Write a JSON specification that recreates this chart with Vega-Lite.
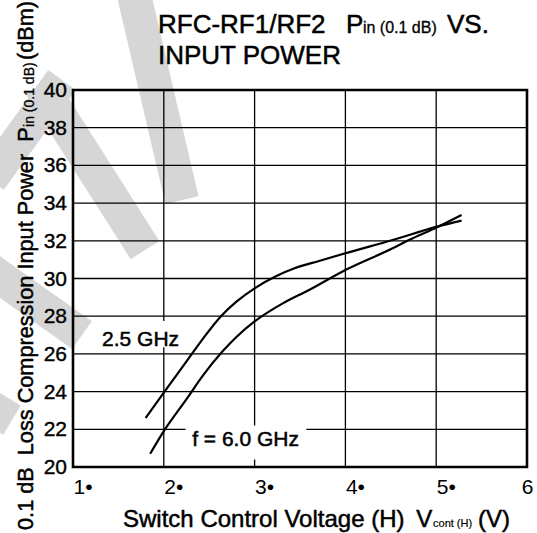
{
  "$schema": "https://vega.github.io/schema/vega-lite/v6.json",
  "width": 454,
  "height": 377,
  "autosize": {"type": "none"},
  "padding": {"left": 73, "top": 90, "right": 10, "bottom": 66},
  "background": "white",
  "config": {
    "view": {"stroke": null},
    "font": "Liberation Sans",
    "text": {"color": "black", "stroke": "black", "strokeWidth": 0.5},
    "axis": {"labelOverlap": false, "labelFlush": false, "labelBound": false}
  },
  "datasets": {
    "watermark": [
      {"band": "A", "v": 1.672, "p": 45.04},
      {"band": "A", "v": 2.2, "p": 34.16},
      {"band": "B", "v": 0.637, "p": 40.27},
      {"band": "B", "v": 1.793, "p": 31.51},
      {"band": "C", "v": 0.086, "p": 30.45},
      {"band": "C", "v": 1.099, "p": 27.0},
      {"band": "D", "v": 0.086, "p": 35.23},
      {"band": "D", "v": 0.879, "p": 40.53},
      {"band": "E", "v": -0.134, "p": 23.82},
      {"band": "E", "v": 0.328, "p": 22.49}
    ],
    "curves": [
      {"series": "2.5 GHz", "v": 1.80, "p": 22.6},
      {"series": "2.5 GHz", "v": 2.0, "p": 23.95},
      {"series": "2.5 GHz", "v": 2.25, "p": 25.6},
      {"series": "2.5 GHz", "v": 2.43, "p": 26.8},
      {"series": "2.5 GHz", "v": 2.63, "p": 28.0},
      {"series": "2.5 GHz", "v": 2.80, "p": 28.77},
      {"series": "2.5 GHz", "v": 3.0, "p": 29.48},
      {"series": "2.5 GHz", "v": 3.24, "p": 30.13},
      {"series": "2.5 GHz", "v": 3.44, "p": 30.54},
      {"series": "2.5 GHz", "v": 3.71, "p": 30.93},
      {"series": "2.5 GHz", "v": 4.0, "p": 31.34},
      {"series": "2.5 GHz", "v": 4.52, "p": 32.04},
      {"series": "2.5 GHz", "v": 5.01, "p": 32.75},
      {"series": "2.5 GHz", "v": 5.28, "p": 33.07},
      {"series": "6.0 GHz", "v": 1.85, "p": 20.7},
      {"series": "6.0 GHz", "v": 2.0, "p": 21.9},
      {"series": "6.0 GHz", "v": 2.25, "p": 23.6},
      {"series": "6.0 GHz", "v": 2.43, "p": 24.85},
      {"series": "6.0 GHz", "v": 2.65, "p": 26.15},
      {"series": "6.0 GHz", "v": 2.80, "p": 26.9},
      {"series": "6.0 GHz", "v": 3.0, "p": 27.72},
      {"series": "6.0 GHz", "v": 3.31, "p": 28.68},
      {"series": "6.0 GHz", "v": 3.60, "p": 29.39},
      {"series": "6.0 GHz", "v": 4.0, "p": 30.45},
      {"series": "6.0 GHz", "v": 4.52, "p": 31.6},
      {"series": "6.0 GHz", "v": 4.70, "p": 32.04},
      {"series": "6.0 GHz", "v": 5.01, "p": 32.72},
      {"series": "6.0 GHz", "v": 5.28, "p": 33.37}
    ],
    "vgrid": [{"v": 2}, {"v": 3}, {"v": 4}, {"v": 5}],
    "hgrid": [{"p": 22}, {"p": 24}, {"p": 26}, {"p": 28}, {"p": 30}, {"p": 32}, {"p": 34}, {"p": 36}, {"p": 38}],
    "yticks": [{"p": 20}, {"p": 22}, {"p": 24}, {"p": 26}, {"p": 28}, {"p": 30}, {"p": 32}, {"p": 34}, {"p": 36}, {"p": 38}, {"p": 40}],
    "boxes": [
      {"v": 1.3, "v2": 2.2, "p": 26.35, "p2": 27.75},
      {"v": 2.24, "v2": 3.57, "p": 20.4, "p2": 22.2}
    ],
    "titleBig": [
      {"v": 1.936, "p": 43.0, "t": "RFC-RF1/RF2"},
      {"v": 4.006, "p": 43.0, "t": "P"},
      {"v": 5.119, "p": 43.0, "t": "VS."},
      {"v": 1.936, "p": 41.38, "t": "INPUT POWER"}
    ],
    "titleSmall": [
      {"v": 4.193, "p": 43.0, "t": "in (0.1 dB)"}
    ],
    "xTitleBig": [
      {"v": 1.551, "p": 16.82, "t": "Switch Control Voltage (H)"},
      {"v": 4.78, "p": 16.82, "t": "V"},
      {"v": 5.46, "p": 16.82, "t": "(V)"}
    ],
    "xTitleSmall": [
      {"v": 4.965, "p": 16.82, "t": "cont (H)"}
    ],
    "yTitleBig": [
      {"v": 0.5595, "p": 16.66, "t": "0.1 dB\u00a0\u00a0Loss Compression Input Power\u00a0\u00a0P"},
      {"v": 0.5595, "p": 41.59, "t": "(dBm)"}
    ],
    "yTitleSmall": [
      {"v": 0.565, "p": 38.04, "t": "in (0.1 dB)"}
    ],
    "leftLabels": [
      {"v": 1.32, "p": 26.75, "t": "2.5 GHz"}
    ],
    "centerLabels": [
      {"v": 2.9, "p": 21.43, "t": "f = 6.0 GHz"}
    ]
  },
  "layer": [
    {
      "data": {"name": "watermark"},
      "mark": {"type": "line", "color": "#d6d6d6", "strokeWidth": 34, "strokeCap": "butt"},
      "encoding": {
        "x": {
          "field": "v", "type": "quantitative",
          "scale": {"domain": [1, 6], "nice": false, "zero": false},
          "axis": {
            "values": [1, 2, 3, 4, 5, 6],
            "grid": false, "domain": false, "ticks": false,
            "labelFontSize": 21, "labelColor": "black", "labelPadding": 9,
            "labelExpr": "datum.value < 6 ? format(datum.value, 'd') + '\u2022' : format(datum.value, 'd')",
            "labelAlign": {"condition": {"test": "datum.value == 6", "value": "center"}, "value": "left"},
            "labelOverlap": false,
            "title": null
          }
        },
        "y": {
          "field": "p", "type": "quantitative",
          "scale": {"domain": [20, 40], "nice": false, "zero": false},
          "axis": {"grid": false, "domain": false, "ticks": false, "labels": false, "title": null}
        },
        "detail": {"field": "band"}
      }
    },
    {
      "data": {"name": "vgrid"},
      "mark": {"type": "rule", "color": "black", "strokeWidth": 1.3},
      "encoding": {"x": {"field": "v", "type": "quantitative"}}
    },
    {
      "data": {"name": "hgrid"},
      "mark": {"type": "rule", "color": "black", "strokeWidth": 1.3},
      "encoding": {"y": {"field": "p", "type": "quantitative"}}
    },
    {
      "data": {"name": "boxes"},
      "mark": {"type": "rect", "color": "white"},
      "encoding": {
        "x": {"field": "v", "type": "quantitative"},
        "x2": {"field": "v2"},
        "y": {"field": "p", "type": "quantitative"},
        "y2": {"field": "p2"}
      }
    },
    {
      "data": {"name": "curves"},
      "mark": {"type": "line", "color": "black", "strokeWidth": 2.2, "interpolate": "monotone"},
      "encoding": {
        "x": {"field": "v", "type": "quantitative"},
        "y": {"field": "p", "type": "quantitative"},
        "detail": {"field": "series"}
      }
    },
    {
      "data": {"values": [{"frame": 1}]},
      "mark": {"type": "rect", "fill": null, "stroke": "black", "strokeWidth": 2.6},
      "encoding": {
        "x": {"datum": 1, "type": "quantitative"},
        "x2": {"datum": 6},
        "y": {"datum": 20, "type": "quantitative"},
        "y2": {"datum": 40}
      }
    },
    {
      "data": {"name": "yticks"},
      "mark": {"type": "text", "fontSize": 21, "align": "right", "baseline": "middle", "dx": -6, "dy": 1, "strokeWidth": 0.4},
      "encoding": {
        "x": {"datum": 1, "type": "quantitative"},
        "y": {"field": "p", "type": "quantitative"},
        "text": {"field": "p", "type": "quantitative", "format": "d"}
      }
    },
    {
      "data": {"name": "titleBig"},
      "mark": {"type": "text", "fontSize": 26, "align": "left", "baseline": "alphabetic"},
      "encoding": {"x": {"field": "v", "type": "quantitative"}, "y": {"field": "p", "type": "quantitative"}, "text": {"field": "t"}}
    },
    {
      "data": {"name": "titleSmall"},
      "mark": {"type": "text", "fontSize": 16, "align": "left", "baseline": "alphabetic", "strokeWidth": 0.3},
      "encoding": {"x": {"field": "v", "type": "quantitative"}, "y": {"field": "p", "type": "quantitative"}, "text": {"field": "t"}}
    },
    {
      "data": {"name": "xTitleBig"},
      "mark": {"type": "text", "fontSize": 24, "align": "left", "baseline": "alphabetic"},
      "encoding": {"x": {"field": "v", "type": "quantitative"}, "y": {"field": "p", "type": "quantitative"}, "text": {"field": "t"}}
    },
    {
      "data": {"name": "xTitleSmall"},
      "mark": {"type": "text", "fontSize": 11, "align": "left", "baseline": "alphabetic", "strokeWidth": 0.2},
      "encoding": {"x": {"field": "v", "type": "quantitative"}, "y": {"field": "p", "type": "quantitative"}, "text": {"field": "t"}}
    },
    {
      "data": {"name": "yTitleBig"},
      "mark": {"type": "text", "fontSize": 21.7, "align": "left", "baseline": "alphabetic", "angle": 270},
      "encoding": {"x": {"field": "v", "type": "quantitative"}, "y": {"field": "p", "type": "quantitative"}, "text": {"field": "t"}}
    },
    {
      "data": {"name": "yTitleSmall"},
      "mark": {"type": "text", "fontSize": 14, "align": "left", "baseline": "alphabetic", "angle": 270, "strokeWidth": 0.3},
      "encoding": {"x": {"field": "v", "type": "quantitative"}, "y": {"field": "p", "type": "quantitative"}, "text": {"field": "t"}}
    },
    {
      "data": {"name": "leftLabels"},
      "mark": {"type": "text", "fontSize": 21, "align": "left", "baseline": "middle"},
      "encoding": {"x": {"field": "v", "type": "quantitative"}, "y": {"field": "p", "type": "quantitative"}, "text": {"field": "t"}}
    },
    {
      "data": {"name": "centerLabels"},
      "mark": {"type": "text", "fontSize": 21, "align": "center", "baseline": "middle"},
      "encoding": {"x": {"field": "v", "type": "quantitative"}, "y": {"field": "p", "type": "quantitative"}, "text": {"field": "t"}}
    }
  ]
}
